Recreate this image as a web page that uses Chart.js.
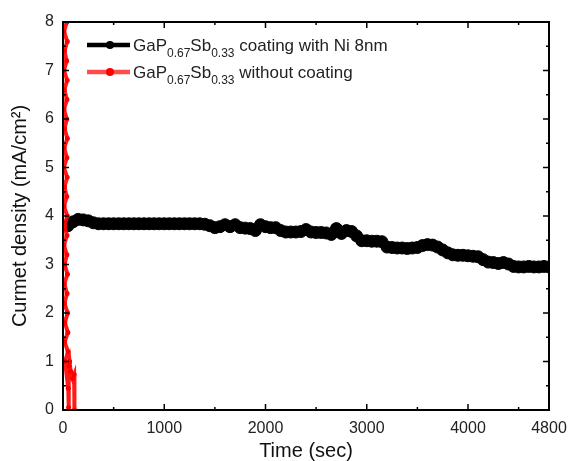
<!DOCTYPE html>
<html><head><meta charset="utf-8">
<script src="https://cdn.jsdelivr.net/npm/chart.js@4.4.0/dist/chart.umd.min.js"></script>
<style>html,body{margin:0;padding:0;background:#fff;overflow:hidden}</style>
</head><body>
<canvas id="c" width="568" height="461"></canvas>
<script>
// Coated sample (black): time in sec, current density in mA/cm2
const coatedTime = [50,100,150,200,250,300,350,400,450,500,550,600,650,700,750,800,850,900,950,1000,
1050,1100,1150,1200,1250,1300,1350,1400,1450,1500,1550,1600,1650,1700,1750,1800,1850,1900,1950,2000,
2050,2100,2150,2200,2250,2300,2350,2400,2450,2500,2550,2600,2650,2700,2750,2800,2850,2900,2950,3000,
3050,3100,3150,3200,3250,3300,3350,3400,3450,3500,3550,3600,3650,3700,3750,3800,3850,3900,3950,4000,
4050,4100,4150,4200,4250,4300,4350,4400,4450,4500,4550,4600,4650,4700,4750,4800];
const coatedCurrent = [3.80,3.88,3.93,3.92,3.90,3.86,3.84,3.84,3.84,3.84,3.84,3.84,3.84,3.84,3.84,3.84,3.84,3.84,3.84,3.84,
3.84,3.84,3.84,3.84,3.84,3.84,3.84,3.83,3.80,3.76,3.78,3.82,3.78,3.82,3.76,3.75,3.74,3.70,3.82,3.78,
3.76,3.76,3.70,3.67,3.67,3.67,3.68,3.72,3.67,3.66,3.66,3.65,3.62,3.74,3.64,3.70,3.68,3.59,3.49,3.49,
3.48,3.48,3.47,3.36,3.35,3.34,3.34,3.33,3.34,3.35,3.39,3.41,3.40,3.36,3.30,3.24,3.20,3.19,3.19,3.18,
3.17,3.16,3.10,3.05,3.04,3.02,3.04,3.01,2.96,2.95,2.95,2.96,2.95,2.95,2.96,2.95];
// Uncoated sample (red)
const bareTime = [8,40,12,38,9,42,14,36,10,41,13,39,9,37,15,43,11,38,8,41,
14,37,10,42,13,39,9,38,16,44,12,40,14,46,18,48,16,50,20,52,
55,58,65,75,95,110,113];
const bareCurrent = [8.6,8.4,8.2,8.0,7.8,7.6,7.4,7.2,7.0,6.8,6.6,6.4,6.2,6.0,5.8,5.6,5.4,5.2,5.0,4.8,
4.6,4.4,4.2,4.0,3.8,3.6,3.4,3.2,3.0,2.8,2.6,2.4,2.2,2.0,1.8,1.6,1.4,1.2,1.0,0.45,
0.05,0.9,1.0,0.8,0.65,0.73,0.0];

const xTickValues = [0,1000,2000,3000,4000,4800];
const xMinorTicks = [500,1500,2500,3500,4500];
const yTickValues = [0,1,2,3,4,5,6,7,8];
const yMinorTicks = [0.5,1.5,2.5,3.5,4.5,5.5,6.5,7.5];

const legendLabels = [
  [['GaP',0],['0.67',1],['Sb',0],['0.33',1],[' coating with Ni 8nm',0]],
  [['GaP',0],['0.67',1],['Sb',0],['0.33',1],[' without coating',0]]
];
const legendColors = [{line:'#000000', point:'#000000'}, {line:'rgba(255,30,30,0.8)', point:'#ff0000'}];

const FONT = "'Liberation Sans', Arial, sans-serif";

const framePlugin = {
  id: 'frame',
  afterDraw(chart) {
    const {ctx, chartArea: a, scales: {x, y}} = chart;
    ctx.save();
    ctx.strokeStyle = '#000';
    ctx.lineWidth = 1.5;
    ctx.beginPath();
    const tx = (v, len) => { const p = x.getPixelForValue(v); ctx.moveTo(p, a.bottom); ctx.lineTo(p, a.bottom - len); ctx.moveTo(p, a.top); ctx.lineTo(p, a.top + len); };
    const ty = (v, len) => { const p = y.getPixelForValue(v); ctx.moveTo(a.left, p); ctx.lineTo(a.left + len, p); ctx.moveTo(a.right, p); ctx.lineTo(a.right - len, p); };
    xTickValues.forEach(v => tx(v, 6));
    xMinorTicks.forEach(v => tx(v, 3));
    yTickValues.forEach(v => ty(v, 6));
    yMinorTicks.forEach(v => ty(v, 3));
    ctx.stroke();
    ctx.lineWidth = 2;
    ctx.strokeRect(a.left, a.top, a.right - a.left, a.bottom - a.top);

    // legend
    const rows = [45, 72];
    legendLabels.forEach((parts, i) => {
      const yy = rows[i];
      ctx.strokeStyle = legendColors[i].line;
      ctx.lineWidth = 4.5;
      ctx.beginPath(); ctx.moveTo(87, yy); ctx.lineTo(130, yy); ctx.stroke();
      ctx.fillStyle = legendColors[i].point;
      ctx.beginPath(); ctx.arc(110, yy, 4, 0, Math.PI * 2); ctx.fill();
      let xx = 133;
      ctx.fillStyle = '#222';
      ctx.textBaseline = 'alphabetic';
      ctx.textAlign = 'left';
      parts.forEach(([t, sub]) => {
        ctx.font = (sub ? '12px ' : '17px ') + FONT;
        ctx.fillText(t, xx, yy + 6 + (sub ? 6 : 0));
        xx += ctx.measureText(t).width;
      });
    });
    ctx.restore();
  }
};

const mk = (xs, ys) => xs.map((t, i) => ({x: t, y: ys[i]}));

new Chart(document.getElementById('c'), {
  type: 'line',
  data: {
    datasets: [
      {
        label: 'coated', data: mk(coatedTime, coatedCurrent), order: 1,
        borderColor: '#000', borderWidth: 4, backgroundColor: '#000',
        pointRadius: 6, pointBorderWidth: 1, pointBackgroundColor: '#000', pointBorderColor: '#000',
        tension: 0
      },
      {
        label: 'bare', data: mk(bareTime, bareCurrent), order: 0,
        borderColor: 'rgba(255,0,0,0.9)', borderWidth: 4, backgroundColor: '#f00',
        pointRadius: 2.5, pointBorderWidth: 0, pointBackgroundColor: '#ff0000',
        tension: 0
      }
    ]
  },
  options: {
    responsive: false,
    animation: false,
    devicePixelRatio: 1,
    layout: {padding: {left: 0, top: 22, right: 19, bottom: 0}},
    plugins: {legend: {display: false}, tooltip: {enabled: false}},
    scales: {
      x: {
        type: 'linear', min: 0, max: 4800,
        afterBuildTicks: s => { s.ticks = xTickValues.map(v => ({value: v})); },
        afterFit: s => { s.height = 51; s.paddingLeft = 0; s.paddingRight = 0; },
        grid: {display: false, drawTicks: false}, border: {display: false},
        ticks: {maxRotation: 0, autoSkip: false, padding: 9, color: '#222', font: {family: FONT, size: 16}, callback: v => String(v)},
        title: {display: true, text: 'Time (sec)', color: '#111', font: {family: FONT, size: 20, lineHeight: 1}, padding: {top: 0, bottom: 0}}
      },
      y: {
        type: 'linear', min: 0, max: 8,
        afterBuildTicks: s => { s.ticks = yTickValues.map(v => ({value: v})); },
        afterFit: s => { s.width = 63; s.paddingTop = 0; s.paddingBottom = 0; },
        grid: {display: false, drawTicks: false}, border: {display: false},
        ticks: {padding: 9, color: '#222', font: {family: FONT, size: 16}, callback: v => String(v)},
        title: {display: true, text: 'Curmet density (mA/cm²)', color: '#111', font: {family: FONT, size: 20, lineHeight: 1}, padding: {top: 10, bottom: 0}}
      }
    }
  },
  plugins: [framePlugin]
});
</script>
</body></html>
